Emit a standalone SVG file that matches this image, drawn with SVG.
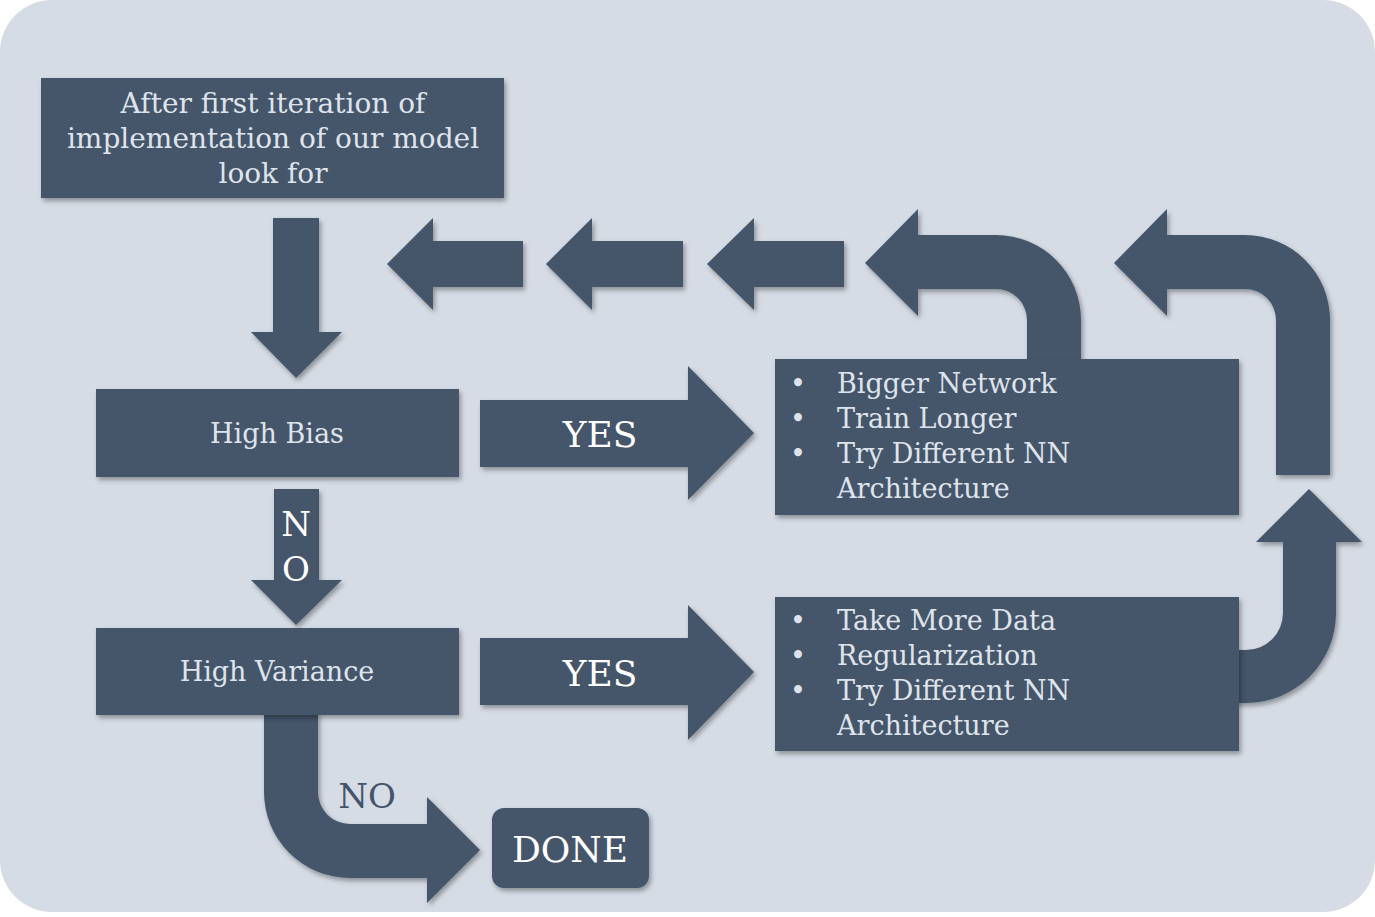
<svg xmlns="http://www.w3.org/2000/svg" width="1375" height="917" viewBox="0 0 1375 917">
<style>
.shape{fill:#44546a;filter:url(#sh)}
.lt{font-family:"DejaVu Serif","Liberation Serif",serif;font-size:27px;fill:#dfe4ec}
.big{font-size:28px}
.wt{font-family:"DejaVu Serif","Liberation Serif",serif;fill:#ffffff}
.mid{text-anchor:middle}
</style>
<defs>
<filter id="sh" x="-10%" y="-10%" width="130%" height="130%">
<feDropShadow dx="2" dy="3" stdDeviation="2.5" flood-color="#000" flood-opacity="0.35"/>
</filter>
</defs>
<rect x="0" y="0" width="1375" height="917" fill="#ffffff"/>
<rect x="0" y="0" width="1375" height="912" rx="52" fill="#d6dce5"/>
<g id="connectors">
<path class="shape" d="M273,218 H319 V332 H342 L296,378 L251,332 H273 Z"/>
<path class="shape" d="M523,241 V287 H433 V310 L387,264 L433,218 V241 Z"/>
<path class="shape" d="M683,241 V287 H592 V310 L546,264 L592,218 V241 Z"/>
<path class="shape" d="M844,241 V287 H754 V310 L707,264 L754,218 V241 Z"/>
<path class="shape" d="M865,263 L918,209 V235 H996 A85,85 0 0 1 1081,320 V360 H1027 V320 A31,31 0 0 0 996,289 H918 V316 Z"/>
<path class="shape" d="M1114,263 L1167,209 V235 H1245 A85,85 0 0 1 1330,320 V475 H1276 V320 A31,31 0 0 0 1245,289 H1167 V316 Z"/>
<path class="shape" d="M1309,489 L1362,542 H1336 V613 A90,90 0 0 1 1246,703 H1230 V650 H1246 A37,37 0 0 0 1283,613 V542 H1256 Z"/>
<path class="shape" d="M480,400 H688 V366 L754,433 L688,500 V467 H480 Z"/>
<path class="shape" d="M480,638 H688 V605 L754,672 L688,740 V705 H480 Z"/>
<path class="shape" d="M274,489 H319 V580 H342 L296,625 L251,580 H274 Z"/>
<path class="shape" d="M264,712 H318 V792 A32,32 0 0 0 350,824 H427 V797 L480,850 L427,903 V878 H350 A86,86 0 0 1 264,792 Z"/>
<text class="wt mid" x="600" y="447" font-size="36">YES</text>
<text class="wt mid" x="600" y="686" font-size="36">YES</text>
<text class="wt mid" x="296" y="536" font-size="34">N</text>
<text class="wt mid" x="296" y="581" font-size="34">O</text>
<text class="mid" x="367" y="808" font-size="34" font-family="DejaVu Serif, Liberation Serif, serif" fill="#44546a">NO</text>
</g>
<g id="node-start">
<rect class="shape" x="41" y="78" width="463" height="120"/>
<text class="lt big mid" x="273" y="113">After first iteration of</text>
<text class="lt big mid" x="273" y="148">implementation of our model</text>
<text class="lt big mid" x="273" y="183">look for</text>
</g>
<g id="node-bias">
<rect class="shape" x="96" y="389" width="363" height="88"/>
<text class="lt mid" x="277" y="443">High Bias</text>
</g>
<g id="node-variance">
<rect class="shape" x="96" y="628" width="363" height="87"/>
<text class="lt mid" x="277" y="681">High Variance</text>
</g>
<g id="node-bias-fix">
<rect class="shape" x="775" y="359" width="464" height="156"/>
<text class="lt" x="790" y="393">•</text>
<text class="lt" x="837" y="393">Bigger Network</text>
<text class="lt" x="790" y="428">•</text>
<text class="lt" x="837" y="428">Train Longer</text>
<text class="lt" x="790" y="463">•</text>
<text class="lt" x="837" y="463">Try Different NN</text>
<text class="lt" x="837" y="498">Architecture</text>
</g>
<g id="node-variance-fix">
<rect class="shape" x="775" y="597" width="464" height="154"/>
<text class="lt" x="790" y="630">•</text>
<text class="lt" x="837" y="630">Take More Data</text>
<text class="lt" x="790" y="665">•</text>
<text class="lt" x="837" y="665">Regularization</text>
<text class="lt" x="790" y="700">•</text>
<text class="lt" x="837" y="700">Try Different NN</text>
<text class="lt" x="837" y="735">Architecture</text>
</g>
<g id="node-done">
<rect class="shape" x="492" y="808" width="157" height="80" rx="12"/>
<text class="wt mid" x="570" y="862" font-size="36">DONE</text>
</g>
</svg>
